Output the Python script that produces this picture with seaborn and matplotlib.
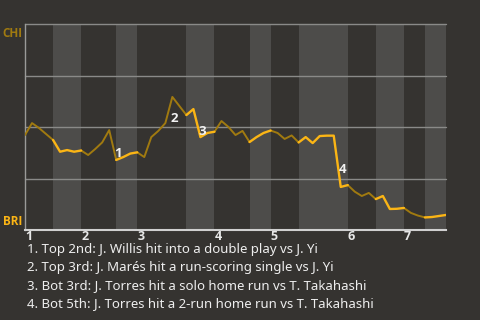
import matplotlib
matplotlib.use("Agg")
import matplotlib.pyplot as plt
import seaborn as sns
import pandas as pd
import numpy as np

# Win probability (CHI at top) after each plate appearance
wp = [0.461, 0.519, 0.495, 0.466, 0.437, 0.380, 0.388, 0.380, 0.386, 0.364,
      0.393, 0.425, 0.485, 0.340, 0.354, 0.371, 0.377, 0.354, 0.451, 0.481,
      0.519, 0.646, 0.602, 0.558, 0.587, 0.451, 0.471, 0.477, 0.529, 0.500,
      0.461, 0.481, 0.427, 0.451, 0.471, 0.483, 0.471, 0.442, 0.459, 0.425,
      0.451, 0.422, 0.456, 0.458, 0.458, 0.209, 0.218, 0.186, 0.165, 0.180,
      0.150, 0.165, 0.102, 0.103, 0.107, 0.083, 0.070, 0.061, 0.063, 0.068,
      0.073]
# plate-appearance index where each half-inning starts/ends
half_bounds = [0, 4, 8, 13, 16, 23, 27, 32, 35, 39, 46, 50, 54, 57, 60]
innings = ["1", "2", "3", "4", "5", "6", "7"]
teams = ["CHI", "BRI"]
event_idx = [13, 21, 25, 45]
event_labels = ["1", "2", "3", "4"]
notes = ["1. Top 2nd: J. Willis hit into a double play vs J. Yi",
         "2. Top 3rd: J. Marés hit a run-scoring single vs J. Yi",
         "3. Bot 3rd: J. Torres hit a solo home run vs T. Takahashi",
         "4. Bot 5th: J. Torres hit a 2-run home run vs T. Takahashi"]

BG = "#353330"
BAND = "#4d4c4a"
DARK = "#a07a10"
BRIGHT = "#fbb515"
BOLD_FAMILY = ["Open Sans", "DejaVu Sans"]

rows = []
for h in range(len(half_bounds) - 1):
    team = teams[h % 2]
    for i in range(half_bounds[h], half_bounds[h + 1] + 1):
        rows.append({"pa": i, "wp": wp[i], "half": h, "team": team})
df = pd.DataFrame(rows)

sns.set_theme(style="dark")
plt.rcParams["font.family"] = ["Noto Sans", "DejaVu Sans"]

fig = plt.figure(figsize=(4.8, 3.2), dpi=100, facecolor=BG)
ax = fig.add_axes([25 / 480, 1 - 230 / 320, 421 / 480, 206 / 320])
ax.set_facecolor(BG)

for h in range(1, len(half_bounds) - 1, 2):
    ax.axvspan(half_bounds[h], half_bounds[h + 1], color=BAND, lw=0, zorder=0)

for g in [0.25, 0.5, 0.75, 1.0]:
    ax.axhline(g, color="#8a8a88", lw=1.0, zorder=1, clip_on=False)

sns.lineplot(data=df, x="pa", y="wp", hue="team", units="half", estimator=None,
             sort=False, palette={"CHI": DARK, "BRI": BRIGHT}, ax=ax,
             legend=False, zorder=3)
for line in ax.get_lines():
    if matplotlib.colors.to_hex(line.get_color()) == BRIGHT:
        line.set_linewidth(1.7)
    elif matplotlib.colors.to_hex(line.get_color()) == DARK:
        line.set_linewidth(1.4)

for idx, lab in zip(event_idx, event_labels):
    mx = idx - 0.5
    my = (wp[idx - 1] + wp[idx]) / 2
    ax.annotate(lab, (mx, my), xytext=(4, -6), textcoords="offset points",
                ha="center", va="center", color="#f2f2f2", fontsize=9.5,
                fontweight="bold", family=BOLD_FAMILY, zorder=5)

ax.set_xlim(0, 60)
ax.set_ylim(0, 1)
ax.set_xlabel("")
ax.set_ylabel("")
inning_starts = half_bounds[0::2][:len(innings)]
ax.set_xticks(inning_starts)
ax.set_xticklabels(innings, ha="left", fontweight="bold", color="#e8e8e8",
                   fontsize=9, family=BOLD_FAMILY)
ax.tick_params(axis="x", length=0, pad=0)
ax.set_yticks([])
for s in ["top", "right"]:
    ax.spines[s].set_visible(False)
ax.spines["left"].set_color("#9a9a98")
ax.spines["left"].set_linewidth(1.0)
ax.spines["bottom"].set_color("#d0d0d0")
ax.spines["bottom"].set_linewidth(1.5)

ax.text(-0.006, 0.985, teams[0], transform=ax.transAxes, ha="right", va="top",
        color=DARK, fontweight="bold", fontsize=8.5, family=BOLD_FAMILY)
ax.text(-0.006, 0.01, teams[1], transform=ax.transAxes, ha="right", va="bottom",
        color=BRIGHT, fontweight="bold", fontsize=8.5, family=BOLD_FAMILY)

for k, note in enumerate(notes):
    fig.text(27 / 480, 1 - (250 + 18 * k) / 320, note, ha="left", va="center",
             color="#eeeeee", fontsize=9.5)

fig.savefig("out.png", dpi=100, facecolor=BG)
